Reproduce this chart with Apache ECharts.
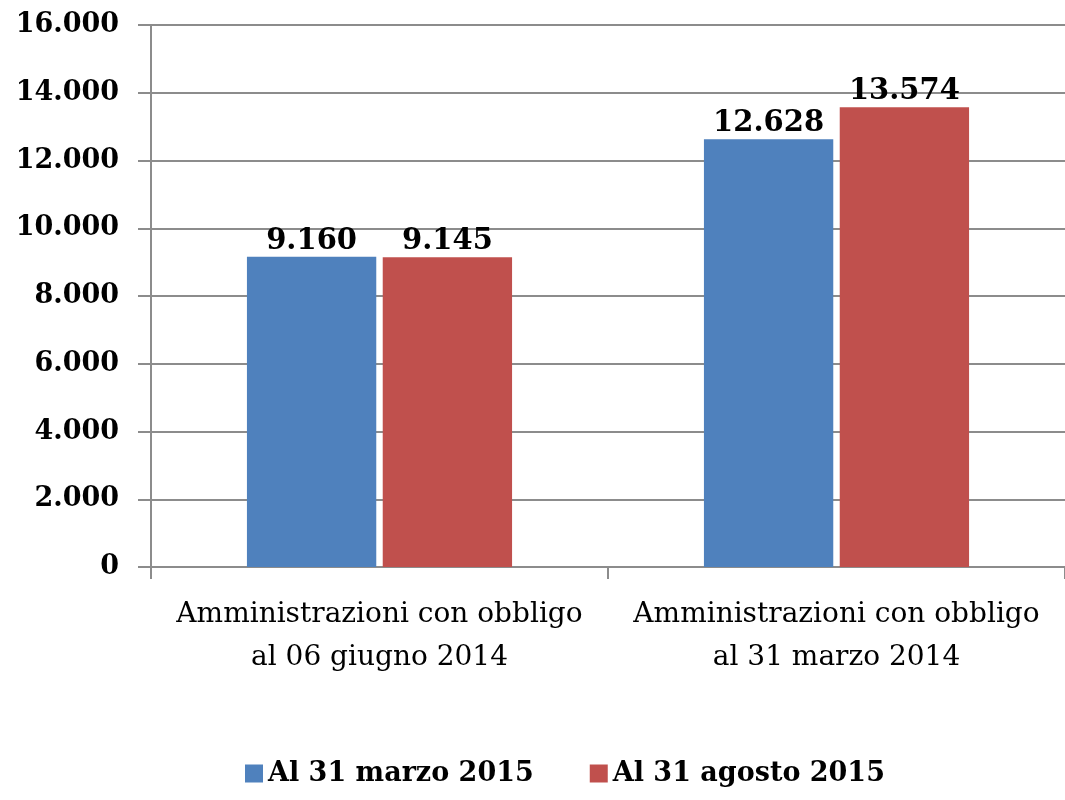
<!DOCTYPE html>
<html>
<head>
<meta charset="utf-8">
<script src="https://cdn.jsdelivr.net/npm/echarts@6/dist/echarts.min.js"></script>
<style>
html, body { margin: 0; padding: 0; background: #fff; }
#main { width: 1065px; height: 800px; }
</style>
</head>
<body>
<div id="main"></div>
<script>
// dati
var categorie = ['Amministrazioni con obbligo\nal 06 giugno 2014', 'Amministrazioni con obbligo\nal 31 marzo 2014'];
var nomiSerie = ['Al 31 marzo 2015', 'Al 31 agosto 2015'];
var marzo2015 = [9160, 12628];
var agosto2015 = [9145, 13574];

function formatIt(v) {
  return String(v).replace(/\B(?=(\d{3})+(?!\d))/g, '.');
}

var font = '"DejaVu Serif", "Liberation Serif", serif';
var chart = echarts.init(document.getElementById('main'));

var etichetta = {
  show: true, position: 'top', distance: 1,
  fontFamily: font, fontSize: 29, fontWeight: 'bold', color: '#000',
  formatter: function (p) { return formatIt(p.value); }
};

chart.setOption({
  animation: false,
  textStyle: { fontFamily: font },
  grid: { left: 151, right: -4, top: 25, bottom: 233 },
  legend: {
    bottom: 8,
    left: 240,
    icon: 'rect',
    itemWidth: 18,
    itemHeight: 18,
    itemGap: 56,
    textStyle: { fontFamily: font, fontSize: 27, fontWeight: 'bold', color: '#000' },
    data: nomiSerie
  },
  xAxis: {
    type: 'category',
    data: categorie,
    axisLine: { lineStyle: { color: '#8c8c8c', width: 2 } },
    axisTick: { show: true, interval: 0, length: 12, lineStyle: { color: '#8c8c8c', width: 2 } },
    axisLabel: { interval: 0, fontFamily: font, fontSize: 28, color: '#000', margin: 26, lineHeight: 43 }
  },
  yAxis: {
    type: 'value',
    min: 0,
    max: 16000,
    interval: 2000,
    axisLine: { show: true, lineStyle: { color: '#8c8c8c', width: 2 } },
    axisTick: { show: true, length: 13, lineStyle: { color: '#8c8c8c', width: 2 } },
    splitLine: { lineStyle: { color: '#8c8c8c', width: 2 } },
    axisLabel: {
      fontFamily: font, fontSize: 27, fontWeight: 'bold', color: '#000', margin: 32,
      formatter: formatIt
    }
  },
  series: [
    {
      name: nomiSerie[0],
      type: 'bar',
      data: marzo2015,
      barWidth: '28.3%',
      barGap: '5%',
      itemStyle: { color: '#4F81BD' },
      label: etichetta
    },
    {
      name: nomiSerie[1],
      type: 'bar',
      data: agosto2015,
      barWidth: '28.3%',
      barGap: '5%',
      itemStyle: { color: '#C0504D' },
      label: etichetta
    }
  ]
});
</script>
</body>
</html>
